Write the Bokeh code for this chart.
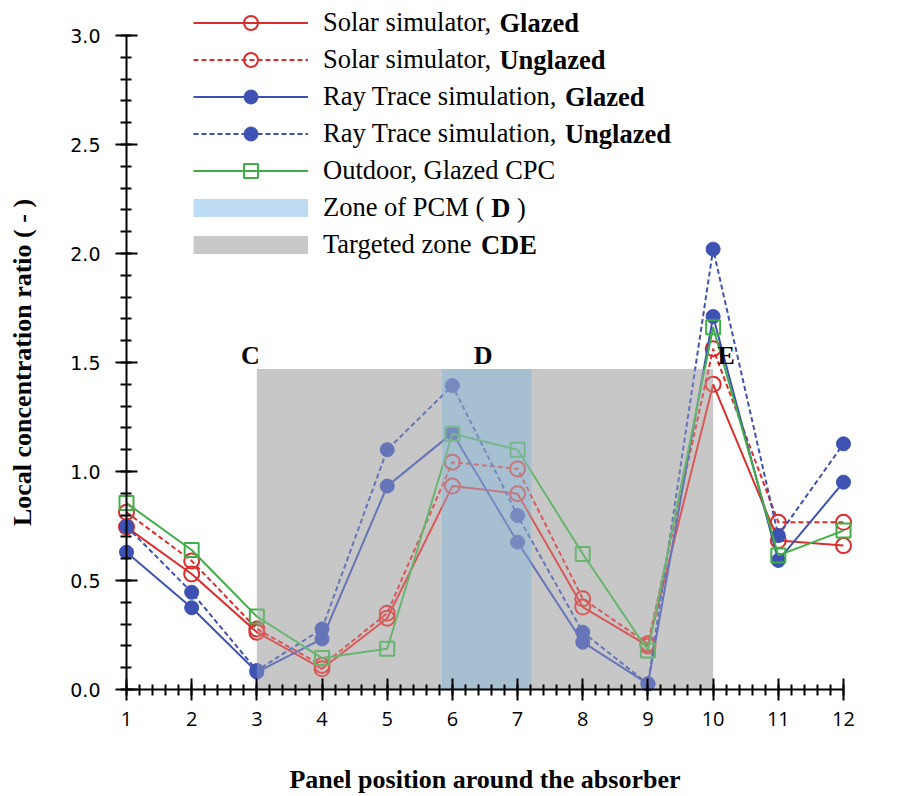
import numpy as np
from bokeh.plotting import figure
from bokeh.models import (Range1d, SingleIntervalTicker, NumeralTickFormatter,
                          Legend, LegendItem, Label, ColumnDataSource)
from bokeh.core.properties import value
from bokeh.embed import file_html
from bokeh.resources import INLINE

# ---------------- data ----------------
positions = [1, 2, 3, 4, 5, 6, 7, 8, 9, 10, 11, 12]
solar_glazed = [0.745, 0.53, 0.263, 0.095, 0.327, 0.933, 0.898, 0.378, 0.20, 1.40, 0.683, 0.66]
solar_unglazed = [0.813, 0.59, 0.278, 0.11, 0.35, 1.043, 1.012, 0.416, 0.21, 1.563, 0.767, 0.767]
ray_glazed = [0.63, 0.375, 0.08, 0.232, 0.933, 1.176, 0.676, 0.217, 0.026, 1.711, 0.592, 0.951]
ray_unglazed = [0.748, 0.446, 0.087, 0.278, 1.10, 1.394, 0.798, 0.263, 0.026, 2.02, 0.706, 1.127]
outdoor_glazed = [0.855, 0.64, 0.335, 0.144, 0.187, 1.173, 1.10, 0.622, 0.179, 1.662, 0.615, 0.729]

zone_cde = [3.0, 10.0]        # targeted zone C-D-E (x extent)
zone_pcm = [5.84, 7.21]       # zone of PCM (D)
zone_top = 1.47
zone_letters = ["C", "D", "E"]
zone_letter_x = [2.90, 6.47, 10.20]
zone_letter_y = [1.532, 1.532, 1.532]

legend_rows = [
    ("Solar simulator, ", "Glazed", ""),
    ("Solar simulator, ", "Unglazed", ""),
    ("Ray Trace simulation, ", "Glazed", ""),
    ("Ray Trace simulation, ", "Unglazed", ""),
    ("Outdoor, Glazed CPC", "", ""),
    ("Zone of PCM ( ", "D", ")"),
    ("Targeted zone ", "CDE", ""),
]

# ---------------- style ----------------
RED = "#dd2c2c"
BLUE = "#3d52b2"
GREEN = "#3fae49"
GRAY = "#c8c8c8"
PCM_BLUE = "#9ebed4"
LEG_BLUE = "#bddcf3"
SERIF = "Liberation Serif"
LEG_FS = 26.5

# Times / Liberation Serif advance widths (1/1000 em), regular and bold
TW = {"S": 556, "o": 500, "l": 278, "a": 444, "r": 333, " ": 250, "s": 389, "i": 278,
      "m": 778, "u": 500, "t": 278, ",": 250, "R": 667, "y": 500, "T": 611, "c": 444,
      "e": 444, "n": 500, "Z": 611, "f": 333, "P": 556, "C": 667, "M": 889, "(": 333,
      "g": 500, "d": 500, "z": 444, "O": 722, "G": 722, ")": 333}
TWB = {"D": 722, "G": 778, "l": 278, "a": 500, "z": 444, "e": 444, "d": 556,
       "U": 722, "n": 556, "g": 500, "C": 722, "E": 667, " ": 250}


def text_width(s, table, fs):
    return sum(table.get(ch, 500) for ch in s) * fs / 1000.0


# canvas geometry: the frame covers the whole canvas, the axes sit at x=1 / y=0
W, H = 906, 796
X0_PX, X1_PX = 126.0, 843.0     # pixel columns of x=1 and x=12
Y0_PX, Y3_PX = 689.0, 35.0      # pixel rows of y=0 and y=3
sx = (X1_PX - X0_PX) / 11.0
sy = (Y0_PX - Y3_PX) / 3.0
x_start = 1 - X0_PX / sx
x_end = 12 + (W - X1_PX) / sx
y_end = 3 + Y3_PX / sy
y_start = -(H - Y0_PX) / sy

p = figure(width=W, height=H, output_backend="svg", toolbar_location=None,
           x_range=Range1d(x_start, x_end), y_range=Range1d(y_start, y_end),
           min_border_left=0, min_border_right=0, min_border_top=0, min_border_bottom=0)
p.outline_line_color = None
p.xgrid.visible = False
p.ygrid.visible = False
p.background_fill_color = "white"
p.border_fill_color = "white"

# shaded zones (underneath)
p.quad(left=[zone_cde[0]], right=[zone_cde[1]], bottom=[0], top=[zone_top],
       fill_color=GRAY, line_color=None)
p.quad(left=[zone_pcm[0]], right=[zone_pcm[1]], bottom=[0], top=[zone_top],
       fill_color=PCM_BLUE, line_color=None)

src = ColumnDataSource(dict(x=positions, sg=solar_glazed, su=solar_unglazed,
                            rg=ray_glazed, ru=ray_unglazed, og=outdoor_glazed))

DASH = "5 3"
l_sg = p.line("x", "sg", source=src, line_color=RED, line_width=2)
m_sg = p.scatter("x", "sg", source=src, marker="circle", size=15, fill_color=None,
                 line_color=RED, line_width=2)
l_su = p.line("x", "su", source=src, line_color=RED, line_width=2, line_dash=DASH)
m_su = p.scatter("x", "su", source=src, marker="circle", size=15, fill_color=None,
                 line_color=RED, line_width=2)
l_rg = p.line("x", "rg", source=src, line_color=BLUE, line_width=2)
m_rg = p.scatter("x", "rg", source=src, marker="circle", size=14, fill_color=BLUE,
                 line_color=BLUE, line_width=1)
l_ru = p.line("x", "ru", source=src, line_color=BLUE, line_width=2, line_dash=DASH)
m_ru = p.scatter("x", "ru", source=src, marker="circle", size=14, fill_color=BLUE,
                 line_color=BLUE, line_width=1)
l_og = p.line("x", "og", source=src, line_color=GREEN, line_width=2)
m_og = p.scatter("x", "og", source=src, marker="square", size=14, fill_color=None,
                 line_color=GREEN, line_width=2)

# translucent veil of the zones over the curves
p.quad(left=[zone_cde[0]], right=[zone_cde[1]], bottom=[0], top=[zone_top],
       fill_color=GRAY, fill_alpha=0.3, line_color=None)
p.quad(left=[zone_pcm[0]], right=[zone_pcm[1]], bottom=[0], top=[zone_top],
       fill_color=PCM_BLUE, fill_alpha=0.3, line_color=None)

# zone letters
p.text(x=zone_letter_x, y=zone_letter_y, text=zone_letters, text_align="center",
       text_baseline="middle", text_font=value(SERIF), text_font_style="bold",
       text_font_size="26px", text_color="black")

# stand-in renderers (never visible in the plot) for the legend patches
nan_pt = np.array([np.nan])
leg_pcm = p.line(x=nan_pt, y=nan_pt, line_color=LEG_BLUE, line_width=18)
leg_cde = p.line(x=nan_pt, y=nan_pt, line_color=GRAY, line_width=18)

# ---------------- axes ----------------
xa = p.xaxis[0]
xa.ticker = SingleIntervalTicker(interval=1, num_minor_ticks=5)
xa.formatter = NumeralTickFormatter(format="0")
xa.bounds = (1, 12)
xa.fixed_location = 0
ya = p.yaxis[0]
ya.ticker = SingleIntervalTicker(interval=0.5, num_minor_ticks=5)
ya.formatter = NumeralTickFormatter(format="0.0")
ya.bounds = (0, 3)
ya.fixed_location = 1
for ax in (xa, ya):
    ax.axis_line_width = 2
    ax.axis_line_color = "black"
    ax.major_tick_line_width = 2
    ax.minor_tick_line_width = 2
    ax.major_tick_line_color = "black"
    ax.minor_tick_line_color = "black"
    ax.major_tick_in = 11
    ax.major_tick_out = 11
    ax.minor_tick_in = 5
    ax.minor_tick_out = 6
    ax.major_label_text_color = "black"
    ax.axis_label_text_font = SERIF
    ax.axis_label_text_font_style = "bold"
    ax.axis_label_text_font_size = "26px"
    ax.axis_label_text_color = "black"
xa.major_label_text_font = "Open Sans"
xa.major_label_text_font_size = "20px"
ya.major_label_text_font = "DejaVu Sans"
ya.major_label_text_font_size = "19px"
xa.axis_label = "Panel position around the absorber"
ya.axis_label = "Local concentration ratio ( - )"
xa.major_label_standoff = 11
xa.axis_label_standoff = 36
ya.major_label_standoff = 15
ya.axis_label_standoff = 30

# ---------------- legend ----------------
renderer_sets = [[l_sg, m_sg], [l_su, m_su], [l_rg, m_rg], [l_ru, m_ru], [l_og, m_og],
                 [leg_pcm], [leg_cde]]
items = [LegendItem(label=row[0], renderers=rs) for row, rs in zip(legend_rows, renderer_sets)]
ROW_H = 35
ROW_GAP = 2
LEG_LEFT = 193.0
LEG_TOP = 4.5
leg_h = 7 * ROW_H + 6 * ROW_GAP
legend = Legend(items=items, location=(LEG_LEFT, H - LEG_TOP - leg_h), glyph_width=115,
                glyph_height=ROW_H, label_height=ROW_H, spacing=ROW_GAP, label_standoff=15,
                padding=0, margin=0, background_fill_alpha=0, border_line_alpha=0,
                label_text_font=SERIF, label_text_font_size=f"{LEG_FS}px",
                label_text_color="black")
p.add_layout(legend)

text_x0 = LEG_LEFT + 115 + 15
top_row_y = H - LEG_TOP - ROW_H / 2
for i, (pre, bold, post) in enumerate(legend_rows):
    y = top_row_y - i * (ROW_H + ROW_GAP)
    if bold:
        bx = text_x0 + text_width(pre, TW, LEG_FS)
        p.add_layout(Label(x=bx, y=y, x_units="screen", y_units="screen", text=bold,
                           text_font=SERIF, text_font_style="bold",
                           text_font_size=f"{LEG_FS}px", text_baseline="middle",
                           text_align="left", text_color="black"))
        if post:
            px = bx + text_width(bold + " ", TWB, LEG_FS)
            p.add_layout(Label(x=px, y=y, x_units="screen", y_units="screen", text=post,
                               text_font=SERIF, text_font_size=f"{LEG_FS}px",
                               text_baseline="middle", text_align="left",
                               text_color="black"))

open("out.html", "w").write(file_html(p, INLINE))
